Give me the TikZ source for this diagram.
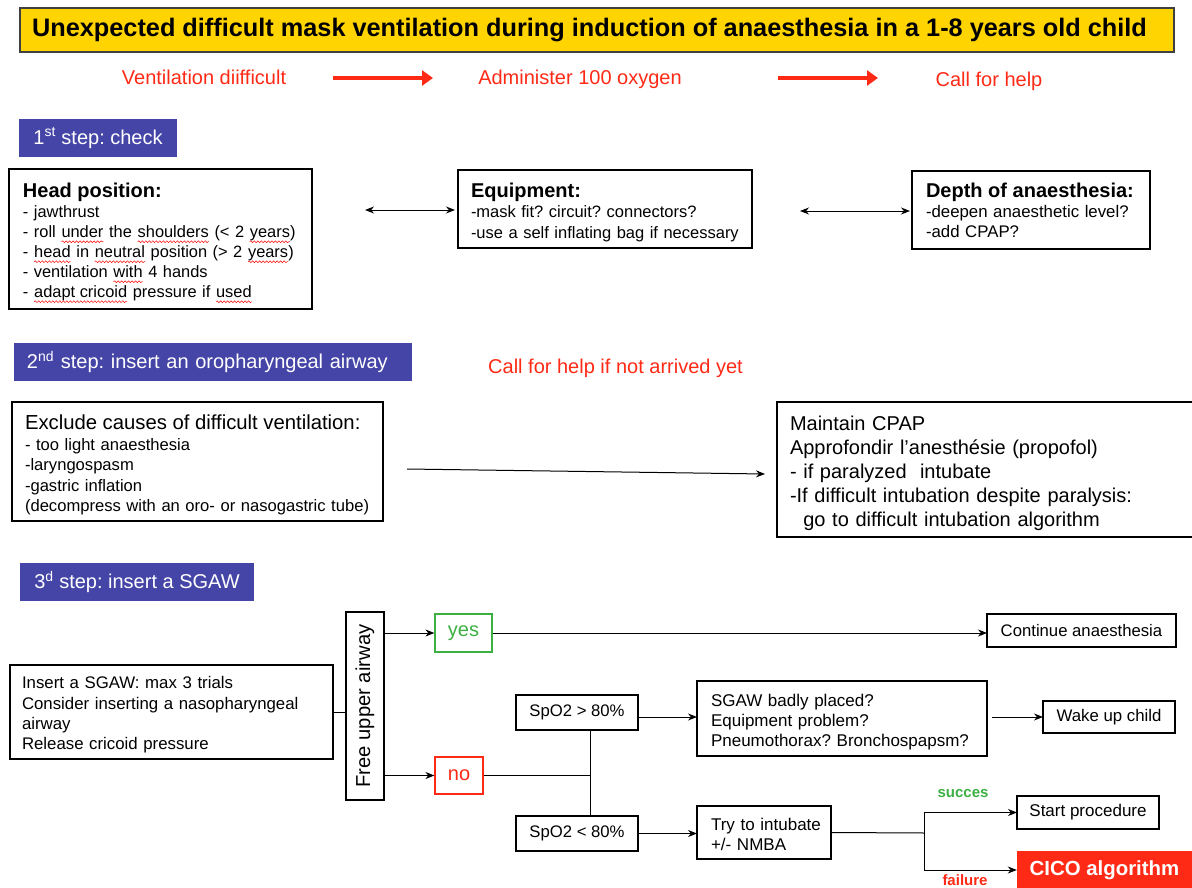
\documentclass[tikz,border=0pt]{standalone}
\usepackage{fontspec}
\setmainfont{Liberation Sans}
\usetikzlibrary{arrows.meta,decorations.pathmorphing}
\definecolor{ttl}{HTML}{FFD400}
\definecolor{stepblue}{HTML}{4545A8}
\definecolor{alertred}{HTML}{FF2A16}
\definecolor{okgreen}{HTML}{3CB043}
\newcommand\fsz[2]{\fontsize{#1}{#2}\selectfont}
\newcommand\Li[1]{\mbox{#1}}
\newcommand\sqw[1]{\tikz[baseline=(sqwnode.base)]{\node[inner sep=0pt,outer sep=0pt,text width=,minimum size=0pt,draw=none,fill=none](sqwnode){#1};\draw[red,line width=0.5pt,decorate,decoration={snake,amplitude=0.9pt,segment length=3.5pt}] ([yshift=-4pt]sqwnode.base west)--([yshift=-4pt]sqwnode.base east);}}
\tikzset{
  box/.style={draw,line width=1.2pt,align=left,inner ysep=0pt,outer sep=0pt},
  cbox/.style={draw,line width=1.2pt,align=center,inner sep=0pt,outer sep=0pt},
  stepbox/.style={fill=stepblue,text=white,inner sep=0pt,outer sep=0pt,font=\fsz{20}{22}},
  redtxt/.style={text=alertred,font=\fsz{20}{22},anchor=base},
  conn/.style={line width=1pt,-{Stealth[length=9pt,width=7pt]}},
  dconn/.style={line width=1pt,{Stealth[length=9pt,width=7pt]}-{Stealth[length=9pt,width=7pt]}},
  bigred/.style={draw=alertred,line width=4pt,-{Triangle[length=11pt,width=15pt]}},
  plain/.style={line width=1pt}
}
\begin{document}
\frenchspacing
\begin{tikzpicture}[x=1pt,y=-1pt]
\path[use as bounding box,fill=white] (0,0) rectangle (1192,888);

% title
\node[draw=black!75,line width=1.5pt,fill=ttl,minimum width=1154pt,minimum height=44pt,inner sep=0pt,font=\bfseries\fsz{25.3}{28}] (title) at (597,30) {Unexpected difficult mask ventilation during induction of anaesthesia in a 1-8 years old child\hspace*{15pt}};

% red row
\node[redtxt] (vd) at (204,85) {Ventilation diifficult};
\node[redtxt] (ao) at (580,85) {Administer 100 oxygen};
\node[redtxt] (cfh) at (989,87) {Call for help};
\coordinate (r1a) at (333,78); \coordinate (r1b) at (433,78);
\coordinate (r2a) at (778,78); \coordinate (r2b) at (878,78);
\draw[bigred] (r1a) -- (r1b);
\draw[bigred] (r2a) -- (r2b);

% step 1
\node[stepbox,minimum width=158pt,minimum height=38pt] (s1) at (98,138) {1\textsuperscript{st} step: check};

\node[box,inner xsep=14pt,text width=275pt,minimum height=140pt,font=\fsz{16.4}{20}] (head) at (160.5,239) {%
\Li{\rule{0pt}{22.6pt}\bfseries\fsz{20}{20}Head position:}\\
\Li{- jawthrust}\\
\Li{- roll \sqw{under} the \sqw{shoulders} (< 2 \sqw{years})}\\
\Li{- \sqw{head} in \sqw{neutral} position (> 2 \sqw{years})}\\
\Li{- ventilation \sqw{with} 4 hands}\\
\Li{- \sqw{adapt cricoid} pressure if \sqw{used}}};

\node[box,inner xsep=13pt,text width=268pt,minimum height=78pt,font=\fsz{16.5}{20.5}] (equip) at (605,209) {%
\Li{\rule{0pt}{20.6pt}\bfseries\fsz{20}{20}Equipment:}\\
\Li{-mask fit? circuit? connectors?}\\
\Li{-use a self inflating bag if necessary}};

\node[box,inner xsep=14pt,text width=210pt,minimum height=78pt,font=\fsz{16.8}{20}] (depth) at (1031,210) {%
\Li{\bfseries\fsz{20}{20}Depth of anaesthesia:}\\
\Li{-deepen anaesthetic level?}\\
\Li{-add CPAP?}};

\coordinate (d1a) at (365,210); \coordinate (d1b) at (455,210);
\coordinate (d2a) at (800,211); \coordinate (d2b) at (910,211);
\draw[dconn] (d1a) -- (d1b);
\draw[dconn] (d2a) -- (d2b);

% step 2
\node[stepbox,align=left,inner xsep=13pt,text width=372pt,minimum height=38pt] (s2) at (213,362) {2\textsuperscript{nd} step: insert an oropharyngeal airway};
\node[redtxt] (cfh2) at (615.5,373) {Call for help if not arrived yet};

\node[box,inner xsep=13pt,text width=345pt,minimum height=119pt,font=\fsz{16.6}{20.3}] (excl) at (197.5,461.5) {%
\Li{\rule{0pt}{21pt}\fsz{20.3}{21}Exclude causes of difficult ventilation:}\\[1pt]
\Li{- too light anaesthesia}\\
\Li{-laryngospasm}\\
\Li{-gastric inflation}\\
\Li{(decompress with an oro- or nasogastric tube)}};

\node[box,inner xsep=13pt,text width=393pt,minimum height=135pt,font=\fsz{20}{24}] (maint) at (986.5,469.5) {%
\Li{\rule{0pt}{21.6pt}Maintain CPAP}\\
\Li{Approfondir l’anesthésie (propofol)}\\
\Li{- if paralyzed\ \ intubate}\\
\Li{-If difficult intubation despite paralysis:}\\
\Li{\ \ go to difficult intubation algorithm}};

\coordinate (e1) at (407,469);
\draw[conn] (e1) -- ([xshift=-12pt,yshift=-4.5pt]maint.west);

% step 3
\node[stepbox,minimum width=234pt,minimum height=38pt] (s3) at (137,582) {3\textsuperscript{d} step: insert a SGAW};

\node[box,inner xsep=12pt,text width=299pt,minimum height=94pt,font=\fsz{16.8}{20.3}] (ins) at (171.5,712) {%
\Li{\rule{0pt}{18.3pt}Insert a SGAW: max 3 trials}\\
\Li{Consider inserting a nasopharyngeal}\\
\Li{airway}\\
\Li{Release cricoid pressure}};

\node[cbox,rotate=90,minimum width=188pt,minimum height=38pt,font=\fsz{20.2}{22}] (free) at (365,706) {Free upper airway};
\draw[plain] (ins.east) -- (ins.east -| free.north);

\node[draw=okgreen,line width=1.2pt,text=okgreen,minimum width=57pt,minimum height=38pt,inner sep=0pt,font=\fsz{20}{22}] (yes) at (463.5,633) {yes};
\node[draw=alertred,line width=1.2pt,text=alertred,minimum width=48pt,minimum height=37pt,inner sep=0pt,font=\fsz{20}{22}] (no) at (459,775.5) {no};

\draw[conn] (free.south |- yes.west) -- (yes.west);
\draw[conn] (free.south |- no.west) -- (no.west);

\node[cbox,minimum width=189pt,minimum height=33pt,font=\fsz{16.7}{20}] (cont) at (1081.5,630.5) {Continue anaesthesia};
\draw[conn] (yes.east) -- (yes.east -| cont.west);

\node[cbox,minimum width=122pt,minimum height=35pt,font=\fsz{16.7}{20}] (sp1) at (577,712.5) {SpO2 > 80\%};
\node[cbox,minimum width=122pt,minimum height=35pt,font=\fsz{16.7}{20}] (sp2) at (577,833.5) {SpO2 < 80\%};
\coordinate (vx1) at ([xshift=13pt]sp1.south);
\coordinate (vx2) at ([xshift=13pt]sp2.north);
\draw[plain] (vx1) -- (vx2);
\draw[plain] (no.east) -- (no.east -| vx1);

\node[box,inner xsep=14pt,text width=262pt,minimum height=75pt,font=\fsz{17}{20}] (sgaw) at (842,718.5) {%
\Li{\rule{0pt}{19.5pt}SGAW badly placed?}\\
\Li{Equipment problem?}\\
\Li{Pneumothorax? Bronchospapsm?}};
\draw[conn] ([yshift=-4.5pt]sp1.east) -- ([yshift=-4.5pt]sp1.east -| sgaw.west);

\node[cbox,minimum width=132pt,minimum height=32pt,font=\fsz{16.8}{20}] (wake) at (1109,717) {Wake up child};
\draw[conn] ([xshift=5pt]sgaw.east |- wake.west) -- (wake.west);

\node[box,inner xsep=14pt,text width=106pt,minimum height=53pt,font=\fsz{17}{19.5}] (try) at (764,832.5) {%
\Li{\rule{0pt}{16.5pt}Try to intubate}\\
\Li{+/- NMBA}};
\draw[conn] (sp2.east) -- (sp2.east -| try.west);

\node[cbox,minimum width=142pt,minimum height=33pt,font=\fsz{17}{20}] (start) at (1088,812.5) {Start procedure};
\node[fill=alertred,text=white,inner sep=0pt,minimum width=175pt,minimum height=38pt,font=\bfseries\fsz{20.4}{22}] (cico) at (1104.5,870) {CICO algorithm};

\coordinate (sp) at (924,833);
\draw[plain] (try.east) -- (sp);
\draw[conn] (sp) |- (start.west);
\draw[conn] (sp) |- (cico.west);

\node[text=okgreen,font=\bfseries\fsz{15}{16}] (succ) at (963,794) {succes};
\node[text=alertred,font=\bfseries\fsz{15}{16}] (fail) at (965,880) {failure};
\end{tikzpicture}
\end{document}
